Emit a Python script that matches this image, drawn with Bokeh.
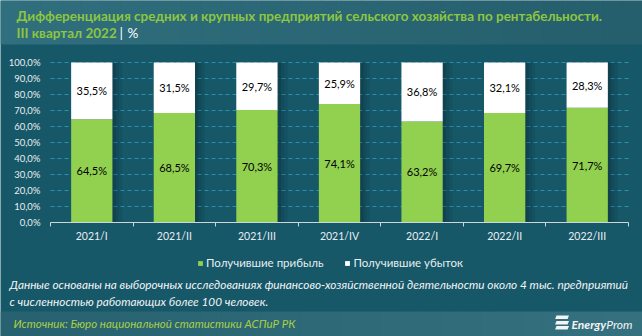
import numpy as np
from bokeh.plotting import figure
from bokeh.models import (ColumnDataSource, Range1d, FixedTicker, Label, Legend, LegendItem,
                          LinearAxis)
from bokeh.core.properties import value
from bokeh.transform import dodge
from bokeh.embed import file_html
from bokeh.resources import INLINE

# ---- data ----
categories = ["2021/I", "2021/II", "2021/III", "2021/IV", "2022/I", "2022/II", "2022/III"]
profit = [64.5, 68.5, 70.3, 74.1, 63.2, 69.7, 71.7]
loss = [35.5, 31.5, 29.7, 25.9, 36.8, 32.1, 28.3]
y_ticks = [0, 10, 20, 30, 40, 50, 60, 70, 80, 90, 100]
series_names = ["Получившие прибыль", "Получившие убыток"]

title_1 = "Дифференциация средних и крупных предприятий сельского хозяйства по рентабельности."
title_2 = "III квартал 2022"
note_1 = "Данные основаны на выборочных исследованиях финансово-хозяйственной деятельности около 4 тыс. предприятий"
note_2 = "с численностью работающих более 100 человек."
source_txt = "Источник: Бюро национальной статистики АСПиР РК"

# ---- style ----
BG = "#165768"
GREEN = "#92d050"
TITLE_GREEN = "#8dc63f"
SRC_GREEN = "#a8cf45"
GRID = "#2b8fae"
LIGHT = "#e8eef0"
WHITE_T = "#f2f4f5"
AXIS = "#cfd6d9"
FONT = "Lato"

W, H = 642, 336
FL, FR, FT, FB = 50, 628, 62, 222     # plotting area in page pixels
n = len(categories)
YMAX = 100


def fmt(v):
    return f"{v:.1f}".replace(".", ",") + "%"


def dx(px):
    return (px - FL) / (FR - FL) * n


def dy(py):
    return (FB - py) / (FB - FT) * YMAX


# 100% stacked: shares of each column's total
tot = [a + b for a, b in zip(profit, loss)]
pn = [a / t * 100 for a, t in zip(profit, tot)]
ln = [b / t * 100 for b, t in zip(loss, tot)]

x = np.arange(n) + 0.5
src = ColumnDataSource(dict(
    x=x, pn=pn, ln=ln,
    py=[v / 2 for v in pn],
    ly=[a + b / 2 for a, b in zip(pn, ln)],
    pt=[fmt(v) for v in profit],
    lt=[fmt(v) for v in loss],
    top=[a + b for a, b in zip(pn, ln)],
))

p = figure(width=W, height=H, output_backend="svg", toolbar_location=None,
           x_range=Range1d(dx(0), dx(W)), y_range=Range1d(dy(H), dy(0)),
           x_axis_type=None, y_axis_type=None, min_border=0, title=None)
p.background_fill_color = BG
p.border_fill_color = BG
p.outline_line_color = None
p.grid.visible = False


def band(top_px, bot_px, c0, c1, steps=32):
    lefts, rights, cols = [], [], []
    for i in range(steps):
        t = i / (steps - 1)
        c = tuple(int(round(a + (b - a) * t)) for a, b in zip(c0, c1))
        cols.append("#%02x%02x%02x" % c)
        lefts.append(dx(i * W / steps))
        rights.append(dx((i + 1) * W / steps + 0.6))
    p.quad(left=lefts, right=rights, top=[dy(top_px)] * steps, bottom=[dy(bot_px)] * steps,
           fill_color=cols, line_color=None)


def lab(px, py, text, color, size, style="normal", align="left", font=FONT):
    p.add_layout(Label(x=dx(px), y=dy(py), text=text, text_color=color,
                       text_font=font, text_font_size=size, text_font_style=style,
                       text_align=align, text_baseline="middle"))


# header / footer bands
band(0, 44, (48, 111, 126), (37, 94, 108))
band(311, H, (40, 98, 112), (52, 112, 126))

# horizontal dashed grid lines at the y ticks, across the category span
p.segment(x0=[0] * len(y_ticks), x1=[n] * len(y_ticks), y0=y_ticks, y1=y_ticks,
          line_color=GRID, line_dash="4 3", line_width=1)

# soft shadow right of the bars
for k, a in [(0.04, 0.10), (0.08, 0.08), (0.12, 0.06)]:
    p.vbar(x=dodge("x", k, range=p.x_range), top="top", bottom=0, width=0.5, source=src,
           fill_color="black", fill_alpha=a, line_color=None)

rs = p.vbar_stack(["pn", "ln"], x="x", width=0.5, source=src,
                  color=[GREEN, "white"], line_color=None)

for ycol, tcol in [("py", "pt"), ("ly", "lt")]:
    p.text(x="x", y=ycol, text=tcol, source=src, text_align="center", text_baseline="middle",
           text_font=value(FONT), text_font_size="11px", text_color="black")

# axes drawn at fixed data locations
yax = LinearAxis(fixed_location=0, ticker=FixedTicker(ticks=y_ticks))
yax.major_label_overrides = {v: fmt(v) for v in y_ticks}
yax.axis_line_color = None
yax.major_tick_line_color = None
yax.minor_tick_line_color = None
yax.major_tick_out = 0
yax.major_tick_in = 0
yax.major_label_standoff = 10
yax.major_label_text_color = LIGHT
yax.major_label_text_font = FONT
yax.major_label_text_font_size = "9.5px"
p.add_layout(yax, "left")

xax = LinearAxis(fixed_location=0,
                 ticker=FixedTicker(ticks=list(x), minor_ticks=list(range(n + 1))))
xax.bounds = (0, n)
xax.major_label_overrides = {float(v): c for v, c in zip(x, categories)}
xax.axis_line_color = AXIS
xax.major_tick_line_color = None
xax.major_tick_out = 0
xax.major_tick_in = 0
xax.minor_tick_line_color = AXIS
xax.minor_tick_out = 4
xax.minor_tick_in = 0
xax.major_label_standoff = 3
xax.major_label_text_color = LIGHT
xax.major_label_text_font = FONT
xax.major_label_text_font_size = "10.5px"
p.add_layout(xax, "below")

legend = Legend(items=[LegendItem(label=series_names[0], renderers=[rs[0]]),
                       LegendItem(label=series_names[1], renderers=[rs[1]])],
                orientation="horizontal", location=(197, H - 269),
                glyph_width=6, glyph_height=6, label_height=12, label_standoff=3,
                spacing=21, padding=0, margin=0, border_line_color=None,
                background_fill_alpha=0, label_text_color=LIGHT,
                label_text_font=FONT, label_text_font_size="11.5px")
p.add_layout(legend, "center")

# texts
lab(16, 15, title_1, TITLE_GREEN, "13.5px", "bold")
lab(16, 32, title_2, TITLE_GREEN, "13.5px", "bold")
lab(119, 32, "|", "white", "14px")
lab(127, 32, "%", "white", "13.5px")
lab(9, 284, note_1, WHITE_T, "11.8px", "italic")
lab(9, 301, note_2, WHITE_T, "11.8px", "italic")
lab(13, 323, source_txt, SRC_GREEN, "11.5px", "italic")
lab(571, 324, "Energy", WHITE_T, "12px", "bold italic")
lab(632, 324, "Prom", WHITE_T, "12px", "italic", align="right")

# logo icon: three slanted bars
icon_top = [315, 320.5, 325.5]
icon_bot = [318.5, 324, 329]
p.patches(xs=[[dx(556), dx(568.5), dx(568.5 - (b - t) * 0.4), dx(556 - (b - t) * 0.4)]
              for t, b in zip(icon_top, icon_bot)],
          ys=[[dy(t), dy(t), dy(b), dy(b)] for t, b in zip(icon_top, icon_bot)],
          fill_color=WHITE_T, line_color=None)

open("out.html", "w").write(file_html(p, INLINE))
